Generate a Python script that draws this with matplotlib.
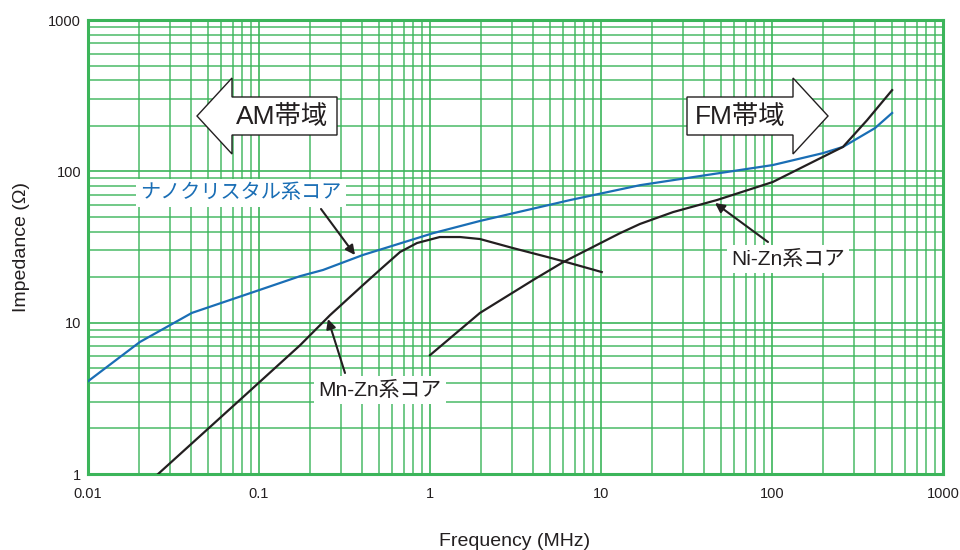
import matplotlib
matplotlib.use("Agg")
import matplotlib.pyplot as plt
from matplotlib.patches import Polygon
from matplotlib.ticker import LogLocator, FixedLocator, NullFormatter

plt.rcParams['font.family'] = ['Liberation Sans', 'Noto Sans CJK JP', 'DejaVu Sans']

# ---- data ----
nano_f = [0.01, 0.0201, 0.0405, 0.1, 0.174, 0.237, 0.405, 1.04, 1.96, 6.6, 16.9, 41.7, 101, 199, 260, 400, 504]
nano_z = [4.1, 7.45, 11.6, 16.4, 20.3, 22.3, 28.0, 39.0, 47.0, 64.6, 81, 94.6, 110, 132, 145, 193, 243]

mnzn_f = [0.0257, 0.0796, 0.174, 0.26, 0.405, 0.531, 0.668, 0.84, 1.14, 1.5, 1.96, 3.06, 4.83, 6.3, 10.1]
mnzn_z = [1.0, 3.18, 7.1, 11.2, 17.7, 23.3, 29.3, 33.6, 36.8, 36.8, 35.7, 31.1, 27.2, 25.1, 21.6]

nizn_f = [1.0, 1.96, 4.0, 6.0, 12.9, 16.9, 26.4, 47.6, 101, 183, 260, 360, 504]
nizn_z = [6.1, 11.6, 19.1, 25.1, 39.0, 44.9, 53.8, 64.6, 85, 119, 145, 218, 344]

x_ticks = [0.01, 0.1, 1, 10, 100, 1000]
x_labels = ['0.01', '0.1', '1', '10', '100', '1000']
y_ticks = [1, 10, 100, 1000]
y_labels = ['1', '10', '100', '1000']

GREEN = '#3cb55a'
BLUE = '#1a6eb5'
BLACK = '#231f20'

fig = plt.figure(figsize=(9.6, 5.5), dpi=100)
ax = fig.add_axes([88/960, 1-474/550, 855/960, 454/550])
ax.set_xscale('log')
ax.set_yscale('log')
ax.set_xlim(0.01, 1000)
ax.set_ylim(1, 1000)

# grid
ax.xaxis.set_major_locator(FixedLocator(x_ticks))
ax.yaxis.set_major_locator(FixedLocator(y_ticks))
ax.xaxis.set_minor_locator(LogLocator(base=10, subs=range(2, 10), numticks=20))
ax.yaxis.set_minor_locator(LogLocator(base=10, subs=range(2, 10), numticks=20))
ax.xaxis.set_minor_formatter(NullFormatter())
ax.yaxis.set_minor_formatter(NullFormatter())
ax.set_xticklabels(x_labels)
ax.set_yticklabels(y_labels)
ax.grid(True, which='major', color=GREEN, linewidth=1.2)
ax.grid(True, which='minor', color=GREEN, linewidth=1.2, alpha=0.85)
ax.set_axisbelow(True)
ax.tick_params(which='both', length=0, labelsize=10.5, colors='#231f20')
ax.tick_params(axis='x', pad=9)
ax.tick_params(axis='y', pad=5)
for s in ax.spines.values():
    s.set_color(GREEN)
    s.set_linewidth(2.2)

# curves
ax.plot(nano_f, nano_z, color=BLUE, linewidth=1.6, zorder=3)
ax.plot(mnzn_f, mnzn_z, color=BLACK, linewidth=1.6, zorder=3)
ax.plot(nizn_f, nizn_z, color=BLACK, linewidth=1.6, zorder=3)

# axis labels
fig.text(515/960, 1-546/550, 'Frequency (MHz)', fontsize=14, ha='center', va='baseline', color='#231f20')
ax.set_ylabel('Impedance (Ω)', fontsize=14, labelpad=13, color='#231f20')

# block arrows (axes fraction coordinates)
def fx(px):
    return (px - 88) / 855
def fy(py):
    return (474 - py) / 454

am = [(fx(197), fy(116)), (fx(232), fy(78)), (fx(232), fy(97)), (fx(337), fy(97)),
      (fx(337), fy(135)), (fx(232), fy(135)), (fx(232), fy(154))]
fm = [(fx(828), fy(116)), (fx(793), fy(78)), (fx(793), fy(97)), (fx(687), fy(97)),
      (fx(687), fy(135)), (fx(793), fy(135)), (fx(793), fy(154))]
for pts in (am, fm):
    ax.add_patch(Polygon(pts, closed=True, transform=ax.transAxes, facecolor='white',
                         edgecolor=BLACK, linewidth=1.0, zorder=4))
ax.text(fx(282), fy(117), 'AM帯域', transform=ax.transAxes, fontsize=19,
        ha='center', va='center', color=BLACK, zorder=5)
ax.text(fx(740), fy(117), 'FM帯域', transform=ax.transAxes, fontsize=19,
        ha='center', va='center', color=BLACK, zorder=5)

# labels with arrows
arrowprops = dict(arrowstyle='-|>', color=BLACK, lw=1.5, mutation_scale=14, shrinkA=0, shrinkB=0)
ax.annotate('', xy=(fx(355), fy(255)), xytext=(fx(321), fy(209)),
            xycoords='axes fraction', textcoords='axes fraction', arrowprops=arrowprops, zorder=5)
ax.annotate('', xy=(fx(715), fy(203)), xytext=(fx(768), fy(242)),
            xycoords='axes fraction', textcoords='axes fraction', arrowprops=arrowprops, zorder=5)
ax.annotate('', xy=(fx(328), fy(319)), xytext=(fx(345), fy(373)),
            xycoords='axes fraction', textcoords='axes fraction', arrowprops=arrowprops, zorder=5)

box = dict(facecolor='white', edgecolor='none', pad=3)
ax.text(fx(241), fy(193), 'ナノクリスタル系コア', transform=ax.transAxes, fontsize=14.5,
        ha='center', va='center', color=BLUE, bbox=box, zorder=6)
ax.text(fx(788), fy(259), 'Ni-Zn系コア', transform=ax.transAxes, fontsize=15,
        ha='center', va='center', color=BLACK, bbox=box, zorder=6)
ax.text(fx(380), fy(390), 'Mn-Zn系コア', transform=ax.transAxes, fontsize=15,
        ha='center', va='center', color=BLACK, bbox=box, zorder=6)

fig.savefig('out.png', dpi=100)
